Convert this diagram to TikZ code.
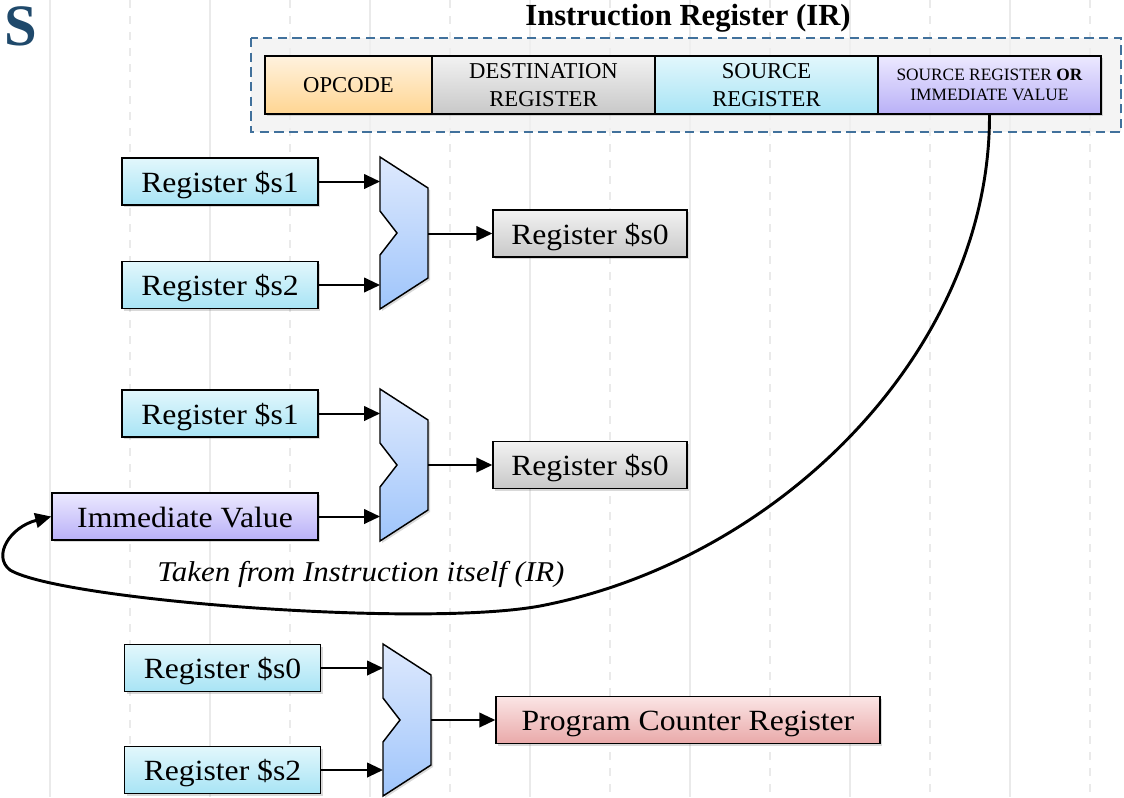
\documentclass[tikz,border=0pt]{standalone}
\usepackage{fontspec}
\setmainfont{Liberation Serif}
\newfontfamily\boxfont[FakeStretch=1.08]{Liberation Serif}
\usetikzlibrary{arrows.meta,shadows}
\definecolor{cyantop}{RGB}{226,247,252}
\definecolor{cyanbot}{RGB}{168,228,245}
\definecolor{graytop}{RGB}{242,242,242}
\definecolor{graybot}{RGB}{200,200,200}
\definecolor{orangetop}{RGB}{255,242,222}
\definecolor{orangebot}{RGB}{255,213,146}
\definecolor{purpletop}{RGB}{236,233,255}
\definecolor{purplebot}{RGB}{185,176,247}
\definecolor{redtop}{RGB}{251,229,229}
\definecolor{redbot}{RGB}{233,169,169}
\definecolor{muxtop}{RGB}{222,233,253}
\definecolor{muxbot}{RGB}{159,197,251}
\definecolor{framecol}{RGB}{65,113,156}
\definecolor{titleblue}{RGB}{31,73,107}
\definecolor{gridcol}{RGB}{234,234,234}

\begin{document}
\begin{tikzpicture}[x=0.75pt,y=-0.75pt]
	\tikzstyle{every node}=[font=\boxfont\fontsize{22}{24}\selectfont]
	\tikzstyle{box}=[draw, line width=1.1pt, inner sep=0pt, minimum height=35.25pt,
	                 drop shadow={shadow xshift=1.5pt, shadow yshift=-1.5pt, opacity=0.3}]
	\tikzstyle{regbox}=[box, text height=16pt, text depth=0pt]
	\tikzstyle{cyanbox}=[regbox, top color=cyantop, bottom color=cyanbot, minimum width=147pt]
	\tikzstyle{graybox}=[regbox, top color=graytop, bottom color=graybot, minimum width=145.5pt]
	\tikzstyle{purplebox}=[regbox, top color=purpletop, bottom color=purplebot, minimum width=199.5pt]
	\tikzstyle{redbox}=[regbox, top color=redtop, bottom color=redbot, minimum width=288pt]
	\tikzstyle{field}=[box, minimum height=43.5pt, minimum width=167.25pt, align=center,
	                   font=\rmfamily\fontsize{17}{21}\selectfont]
	\tikzstyle{mux}=[draw, line width=1.1pt, top color=muxtop, bottom color=muxbot,
	                 drop shadow={shadow xshift=1.5pt, shadow yshift=-1.5pt, opacity=0.3}]
	\tikzstyle{arr}=[line width=1.5pt, -{Triangle[length=12pt, width=11pt]}]

	\useasboundingbox (0,0) rectangle (1124,797);

	% background grid
	\foreach \x in {50,210,...,1010}
		\draw[gridcol, line width=1pt] (\x,0) -- (\x,797);
	\foreach \x in {130,290,...,1090}
		\draw[gridcol, line width=1pt, dash pattern=on 6pt off 6pt] (\x,0) -- (\x,797);

	% instruction register
	\node[anchor=base west, inner sep=0pt, text=titleblue, font=\rmfamily\fontsize{44}{44}\selectfont\bfseries] (sec) at (4,45) {S};
	\node[anchor=base, inner sep=0pt, font=\rmfamily\fontsize{23}{26}\selectfont\bfseries] (irtitle) at (688,25) {Instruction Register (IR)};
	\draw[framecol, line width=1.2pt, dash pattern=on 7pt off 4pt, fill=black!6, fill opacity=0.7] (251,38) rectangle (1121,132);
	\path (348.5,85) node[field, top color=orangetop, bottom color=orangebot, minimum width=125.25pt] (f1) {OPCODE}
	      (543.5,85) node[field, top color=graytop, bottom color=graybot] (f2) {DESTINATION\\REGISTER}
	      (766.5,85) node[field, top color=cyantop, bottom color=cyanbot] (f3) {SOURCE\\REGISTER}
	      (989.5,85) node[field, top color=purpletop, bottom color=purplebot, font=\rmfamily\fontsize{13}{15.5}\selectfont] (f4) {SOURCE REGISTER \textbf{OR}\\IMMEDIATE VALUE};

	% first mux
	\path (220,181.5) node[cyanbox] (s1a) {Register \$s1}
	      (220,285) node[cyanbox] (s2a) {Register \$s2}
	      (590,233.5) node[graybox] (s0a) {Register \$s0};
	\draw[mux] (380,157) -- (428,188) -- (428,278) -- (380,309) -- (380,255) -- (397,233) -- (380,211) -- cycle;
	\coordinate (m1a) at (380,181.5);
	\coordinate (m1b) at (380,285);
	\coordinate (m1o) at (428,233.5);
	\draw[arr] (s1a) -- (m1a);
	\draw[arr] (s2a) -- (m1b);
	\draw[arr] (m1o) -- (s0a);

	% second mux
	\path (220,413.5) node[cyanbox] (s1b) {Register \$s1}
	      (185,516.5) node[purplebox] (imm) {Immediate Value}
	      (590,465) node[graybox] (s0b) {Register \$s0};
	\draw[mux] (380,389) -- (428,420) -- (428,510) -- (380,541) -- (380,487) -- (397,465) -- (380,443) -- cycle;
	\coordinate (m2a) at (380,413.5);
	\coordinate (m2b) at (380,516.5);
	\coordinate (m2o) at (428,465);
	\draw[arr] (s1b) -- (m2a);
	\draw[arr] (imm) -- (m2b);
	\draw[arr] (m2o) -- (s0b);

	% third mux
	\path (222.5,668) node[cyanbox] (s0c) {Register \$s0}
	      (222.5,770) node[cyanbox] (s2c) {Register \$s2}
	      (688,720) node[redbox] (pc) {Program Counter Register};
	\draw[mux] (383,644) -- (431,675) -- (431,765) -- (383,796) -- (383,742) -- (400,720) -- (383,698) -- cycle;
	\coordinate (m3a) at (383,668);
	\coordinate (m3b) at (383,770);
	\coordinate (m3o) at (431,720);
	\draw[arr] (s0c) -- (m3a);
	\draw[arr] (s2c) -- (m3b);
	\draw[arr] (m3o) -- (pc);

	% immediate taken from IR
	\draw[line width=2.2pt, -{Triangle[length=12pt, width=11pt]}] (f4.south) .. controls (990,350) and (780,560) .. (540,606)
	      .. controls (420,628) and (60,600) .. (10,570)
	      .. controls (-8,556) and (10,527) .. (imm.west);
	\node[font=\boxfont\fontsize{21.5}{24}\selectfont\itshape] (takenlbl) at (361,574) {Taken from Instruction itself (IR)};
\end{tikzpicture}
\end{document}
